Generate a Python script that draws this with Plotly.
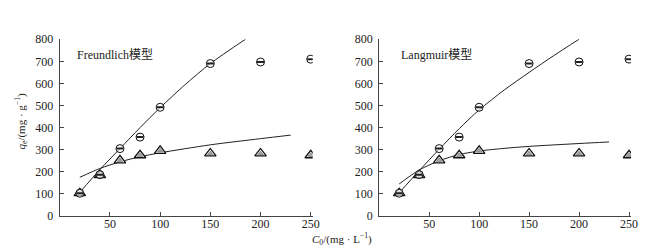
import plotly.graph_objects as go

# measured data
c0 = [20, 40, 60, 80, 100, 150, 200, 250]
qe_circle = [103, 187, 305, 357, 492, 690, 697, 710]
qe_triangle = [103, 185, 252, 275, 295, 283, 283, 275]

# fitted curves
fr_circle_x = [20, 40, 60, 80, 100, 125, 150, 185]
fr_circle_y = [107, 210, 305, 400, 490, 595, 690, 800]
fr_tri_x = [20, 40, 60, 80, 100, 150, 200, 230]
fr_tri_y = [175, 215, 245, 268, 286, 322, 350, 366]

la_circle_x = [20, 40, 60, 80, 100, 125, 150, 175, 200]
la_circle_y = [105, 205, 302, 395, 480, 570, 650, 727, 800]
la_tri_x = [20, 40, 60, 80, 100, 125, 150, 200, 230]
la_tri_y = [145, 208, 250, 278, 294, 306, 315, 328, 335]

x_ticks = [50, 100, 150, 200, 250]
y_ticks = [0, 100, 200, 300, 400, 500, 600, 700, 800]

W, H = 660, 248
FONT = "Liberation Serif"
CJK = "Liberation Serif, Noto Sans CJK SC"
TXT = "#222222"
AX = "#444444"

fig = go.Figure()


def add_panel(xa, ya, cx, cy, tx, ty):
    for xs, ys in ((cx, cy), (tx, ty)):
        fig.add_trace(go.Scatter(x=xs, y=ys, mode="lines",
                                 line=dict(color="#222", width=1, shape="spline", smoothing=0.8),
                                 xaxis=xa, yaxis=ya, showlegend=False, hoverinfo="skip"))
    fig.add_trace(go.Scatter(x=c0, y=qe_triangle, mode="markers",
                             marker=dict(symbol="triangle-up", size=10, color="#ffffff",
                                         line=dict(color="#111", width=1.3)),
                             xaxis=xa, yaxis=ya, showlegend=False))
    fig.add_trace(go.Scatter(x=c0, y=qe_triangle, mode="markers",
                             marker=dict(symbol="triangle-up", size=5, color="#a0a0a0",
                                         line=dict(color="#666", width=0.5)),
                             xaxis=xa, yaxis=ya, showlegend=False))
    fig.add_trace(go.Scatter(x=c0, y=qe_circle, mode="markers",
                             marker=dict(symbol="circle", size=8, color="rgba(255,255,255,0.6)",
                                         line=dict(color="#111", width=1)),
                             xaxis=xa, yaxis=ya, showlegend=False))
    fig.add_trace(go.Scatter(x=c0, y=qe_circle, mode="markers",
                             marker=dict(symbol="line-ew", size=5, line=dict(color="#222", width=2)),
                             xaxis=xa, yaxis=ya, showlegend=False))


add_panel("x", "y", fr_circle_x, fr_circle_y, fr_tri_x, fr_tri_y)
add_panel("x2", "y2", la_circle_x, la_circle_y, la_tri_x, la_tri_y)

y_bot = (H - 213) / H
y_top = (H - 25.7) / H

axis_common = dict(showgrid=False, zeroline=False, showline=True, linecolor=AX, linewidth=1,
                   ticks="inside", ticklen=4, tickcolor=AX,
                   tickfont=dict(family=FONT, size=12, color=TXT))

fig.update_layout(
    width=W, height=H, margin=dict(l=0, r=0, t=0, b=0),
    paper_bgcolor="white", plot_bgcolor="white",
    font=dict(family=FONT, color=TXT),
    xaxis=dict(domain=[52.3 / W, 308 / W], range=[0, 252], tickvals=x_ticks, anchor="y",
               ticklabelstandoff=-3, **axis_common),
    yaxis=dict(domain=[y_bot, y_top], range=[0, 800], tickvals=y_ticks, anchor="x",
               ticklabelstandoff=3, **axis_common),
    xaxis2=dict(domain=[375.2 / W, 629.7 / W], range=[0, 252], tickvals=x_ticks, anchor="y2",
                ticklabelstandoff=-3, **axis_common),
    yaxis2=dict(domain=[y_bot, y_top], range=[0, 800], tickvals=y_ticks, anchor="x2",
                ticklabelstandoff=3, **axis_common),
    annotations=[
        dict(text="Freundlich模型", x=68 / W, y=1 - 42 / H, xref="paper", yref="paper",
             xanchor="left", yanchor="middle", showarrow=False,
             font=dict(family=CJK, size=12, color=TXT)),
        dict(text="Langmuir模型", x=395 / W, y=1 - 42 / H, xref="paper", yref="paper",
             xanchor="left", yanchor="middle", showarrow=False,
             font=dict(family=CJK, size=12, color=TXT)),
        dict(text="<i>q</i><sub>e</sub>/(mg · g<sup>−1</sup>)", x=13 / W, y=1 - 112 / H,
             xref="paper", yref="paper", xanchor="center", yanchor="middle", textangle=-90,
             showarrow=False, font=dict(family=FONT, size=11, color=TXT)),
        dict(text="<i>C</i><sub>0</sub>/(mg · L<sup>−1</sup>)", x=338 / W, y=1 - 237 / H,
             xref="paper", yref="paper", xanchor="center", yanchor="middle",
             showarrow=False, font=dict(family=FONT, size=11, color=TXT)),
    ],
)

fig.write_html("out.html")
